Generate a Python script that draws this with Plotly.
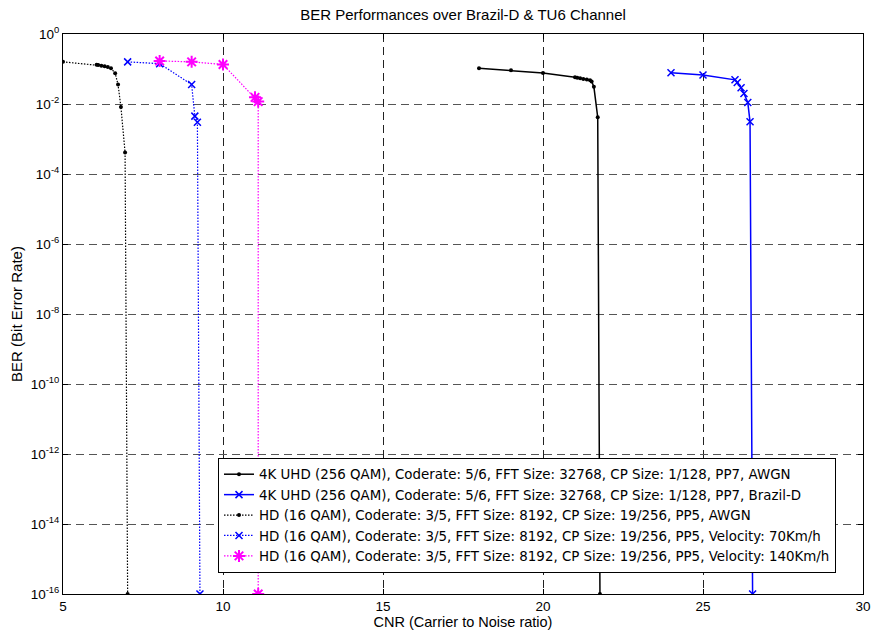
import plotly.graph_objects as go

# ---- data ----
uhd_awgn_x = [18.0, 19.0, 20.0, 21.0, 21.07, 21.16, 21.26, 21.37, 21.47, 21.52, 21.59, 21.71, 21.78]
uhd_awgn_y = [0.105, 0.092, 0.077, 0.058, 0.056, 0.054, 0.052, 0.050, 0.048, 0.044, 0.031, 0.0042, 1e-16]

uhd_brazil_x = [24.0, 25.0, 26.0, 26.07, 26.19, 26.28, 26.4, 26.47, 26.55]
uhd_brazil_y = [0.078, 0.067, 0.049, 0.041, 0.029, 0.020, 0.011, 0.0031, 1e-16]

hd_awgn_x = [5.0, 6.05, 6.1, 6.2, 6.3, 6.4, 6.5, 6.63, 6.72, 6.81, 6.94, 7.02]
hd_awgn_y = [0.16, 0.133, 0.13, 0.124, 0.119, 0.114, 0.105, 0.076, 0.036, 0.0082, 4.1e-4, 1e-16]

hd_70_x = [7.02, 8.02, 9.02, 9.12, 9.2, 9.28]
hd_70_y = [0.16, 0.142, 0.036, 0.0045, 0.003, 1e-16]

hd_140_x = [8.02, 9.02, 10.0, 11.0, 11.1, 11.1]
hd_140_y = [0.17, 0.16, 0.135, 0.0155, 0.0117, 1e-16]

names = [
    "4K UHD (256 QAM), Coderate: 5/6, FFT Size: 32768, CP Size: 1/128, PP7, AWGN",
    "4K UHD (256 QAM), Coderate: 5/6, FFT Size: 32768, CP Size: 1/128, PP7, Brazil-D",
    "HD (16 QAM), Coderate: 3/5, FFT Size: 8192, CP Size: 19/256, PP5, AWGN",
    "HD (16 QAM), Coderate: 3/5, FFT Size: 8192, CP Size: 19/256, PP5, Velocity: 70Km/h",
    "HD (16 QAM), Coderate: 3/5, FFT Size: 8192, CP Size: 19/256, PP5, Velocity: 140Km/h",
]

y_tick_exps = [0, -2, -4, -6, -8, -10, -12, -14, -16]
x_ticks = [5, 10, 15, 20, 25, 30]

FONT = "Liberation Sans, Arial, sans-serif"
LEGEND_FONT = "DejaVu Sans, Liberation Sans, sans-serif"

fig = go.Figure()

fig.add_trace(go.Scatter(
    x=uhd_awgn_x, y=uhd_awgn_y, name=names[0], mode="lines+markers",
    line=dict(color="black", width=1.5),
    marker=dict(symbol="circle", size=4, color="black"),
))
fig.add_trace(go.Scatter(
    x=uhd_brazil_x, y=uhd_brazil_y, name=names[1], mode="lines+markers",
    line=dict(color="#0000ff", width=1.5),
    marker=dict(symbol="x-thin-open", size=7, line=dict(color="#0000ff", width=1.5)),
))
fig.add_trace(go.Scatter(
    x=hd_awgn_x, y=hd_awgn_y, name=names[2], mode="lines+markers",
    line=dict(color="black", width=1.2, dash="1.5px,1.5px"),
    marker=dict(symbol="circle", size=4, color="black"),
))
fig.add_trace(go.Scatter(
    x=hd_70_x, y=hd_70_y, name=names[3], mode="lines+markers",
    line=dict(color="#0000ff", width=1.2, dash="1.5px,1.5px"),
    marker=dict(symbol="x-thin-open", size=7, line=dict(color="#0000ff", width=1.5)),
))
fig.add_trace(go.Scatter(
    x=hd_140_x, y=hd_140_y, name=names[4], mode="lines+markers",
    line=dict(color="#ff00ff", width=1.2, dash="1.5px,1.5px"),
    marker=dict(symbol="asterisk-open", size=10, line=dict(color="#ff00ff", width=2)),
))

fig.update_layout(
    width=872, height=630,
    paper_bgcolor="white", plot_bgcolor="white",
    margin=dict(l=63, r=9, t=34, b=36, pad=0, autoexpand=False),
    font=dict(family=FONT, size=14, color="black"),
    title=dict(text="BER Performances over Brazil-D & TU6 Channel",
               x=(63 + 400) / 872, xanchor="center", y=1 - 15 / 630, yanchor="middle",
               font=dict(family=FONT, size=15, color="black")),
    legend=dict(
        x=(218 - 63) / 800, y=(594 - 458) / 560, xanchor="left", yanchor="top",
        bgcolor="white", bordercolor="black", borderwidth=1,
        font=dict(family=LEGEND_FONT, size=13.4, color="black"),
        tracegroupgap=0, itemwidth=30,
    ),
    showlegend=True,
)

fig.update_xaxes(
    range=[5, 30], tickvals=x_ticks, ticktext=[str(v) for v in x_ticks],
    showline=True, linecolor="black", linewidth=1, mirror="ticks",
    ticks="inside", ticklen=5, tickcolor="black",
    showgrid=True, gridcolor="#222222", gridwidth=1, griddash="8px,5px",
    zeroline=False, automargin=False,
    title=dict(text="CNR (Carrier to Noise ratio)", standoff=0,
               font=dict(family=FONT, size=14.5)),
    tickfont=dict(family=FONT, size=13.5),
)
fig.update_yaxes(
    type="log", range=[-16, 0],
    tickvals=[10.0 ** e for e in y_tick_exps],
    ticktext=["10<sup>%d</sup>" % e for e in y_tick_exps],
    showline=True, linecolor="black", linewidth=1, mirror="ticks",
    ticks="inside", ticklen=5, tickcolor="black",
    showgrid=True, gridcolor="#555555", gridwidth=1, griddash="8px,5px",
    zeroline=False, automargin=False,
    title=dict(text="BER (Bit Error Rate)", standoff=4,
               font=dict(family=FONT, size=15)),
    tickfont=dict(family=FONT, size=13.5),
)

fig.write_html("out.html", config={"displayModeBar": False},
               post_script="document.body.style.margin='0';")
